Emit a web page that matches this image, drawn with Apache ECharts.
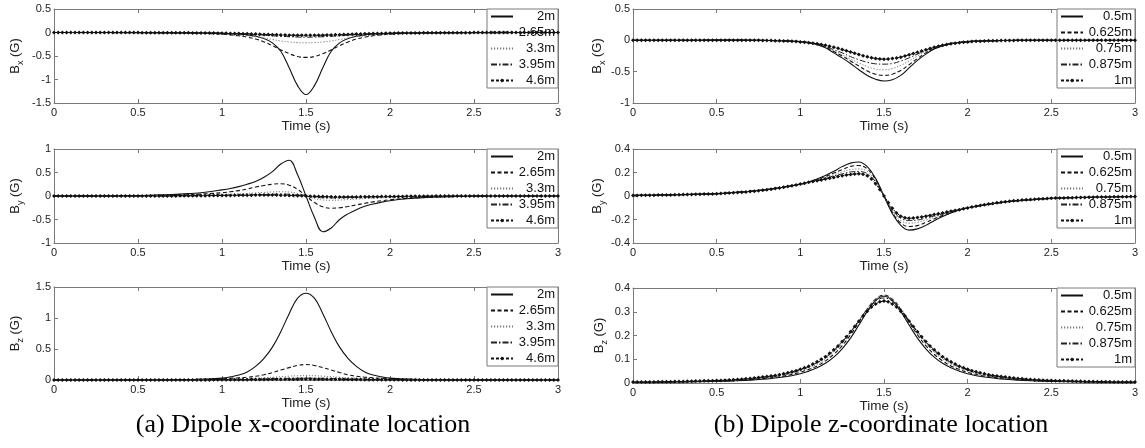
<!DOCTYPE html>
<html><head><meta charset="utf-8">
<script src="https://cdn.jsdelivr.net/npm/echarts/dist/echarts.min.js"></script>
<style>html,body{margin:0;padding:0;background:#fff}#c{width:1145px;height:448px}</style>
</head><body><div id="c"></div><script>
// ---------- DATA ----------
const T = [0,0.25,0.5,0.6,0.7,0.8,0.9,1.0,1.05,1.1,1.15,1.2,1.25,1.3,1.35,1.4,1.45,1.5,1.55,1.6,1.65,1.7,1.75,1.8,1.85,1.9,1.95,2.0,2.1,2.2,2.3,2.4,2.5,2.75,3.0];
const TM = [0,0.025,0.05,0.075,0.1,0.125,0.15,0.175,0.2,0.225,0.25,0.275,0.3,0.325,0.35,0.375,0.4,0.425,0.45,0.475,0.5,0.525,0.55,0.575,0.6,0.625,0.65,0.675,0.7,0.725,0.75,0.775,0.8,0.825,0.85,0.875,0.9,0.925,0.95,0.975,1,1.025,1.05,1.075,1.1,1.125,1.15,1.175,1.2,1.225,1.25,1.275,1.3,1.325,1.35,1.375,1.4,1.425,1.45,1.475,1.5,1.525,1.55,1.575,1.6,1.625,1.65,1.675,1.7,1.725,1.75,1.775,1.8,1.825,1.85,1.875,1.9,1.925,1.95,1.975,2,2.025,2.05,2.075,2.1,2.125,2.15,2.175,2.2,2.225,2.25,2.275,2.3,2.325,2.35,2.375,2.4,2.425,2.45,2.475,2.5,2.525,2.55,2.575,2.6,2.625,2.65,2.675,2.7,2.725,2.75,2.775,2.8,2.825,2.85,2.875,2.9,2.925,2.95,2.975,3];
const X_TICKS = [0, 3, 0.5];

const NAMES_A = ['2m','2.65m','3.3m','3.95m','4.6m'];
const NAMES_B = ['0.5m','0.625m','0.75m','0.875m','1m'];

// (a) Dipole x-coordinate location
const BX_A_2   = [0,0,-0.001,-0.002,-0.004,-0.006,-0.01,-0.018,-0.025,-0.035,-0.05,-0.08,-0.13,-0.22,-0.4,-0.75,-1.13,-1.32,-1.13,-0.75,-0.4,-0.22,-0.13,-0.08,-0.05,-0.035,-0.025,-0.018,-0.01,-0.006,-0.004,-0.002,-0.001,0,0];
const BX_A_265 = [0,-0.001,-0.003,-0.005,-0.008,-0.012,-0.02,-0.035,-0.05,-0.07,-0.1,-0.14,-0.2,-0.28,-0.37,-0.45,-0.51,-0.53,-0.51,-0.45,-0.37,-0.28,-0.2,-0.14,-0.1,-0.07,-0.05,-0.035,-0.02,-0.012,-0.008,-0.005,-0.003,-0.001,0];
const BX_A_33  = [0,-0.002,-0.004,-0.006,-0.009,-0.013,-0.02,-0.03,-0.04,-0.055,-0.07,-0.09,-0.12,-0.15,-0.18,-0.2,-0.215,-0.22,-0.215,-0.2,-0.18,-0.15,-0.12,-0.09,-0.07,-0.055,-0.04,-0.03,-0.02,-0.013,-0.009,-0.006,-0.004,-0.002,0];
const BX_A_395 = [0,-0.002,-0.004,-0.005,-0.007,-0.01,-0.014,-0.02,-0.025,-0.03,-0.038,-0.047,-0.057,-0.07,-0.08,-0.09,-0.097,-0.1,-0.097,-0.09,-0.08,-0.07,-0.057,-0.047,-0.038,-0.03,-0.025,-0.02,-0.014,-0.01,-0.007,-0.005,-0.004,-0.002,0];
const BX_A_46  = [0,0,0,0,0,0,0,0,0,0,0,0,0,0,0,0,0,0,0,0,0,
  -0.003,-0.003,-0.003,-0.004,-0.004,-0.004,-0.005,-0.005,-0.006,-0.006,
  -0.007,-0.007,-0.008,-0.009,-0.01,-0.011,-0.012,-0.013,-0.014,-0.015,
  -0.017,-0.019,-0.021,-0.023,-0.025,-0.028,-0.031,-0.034,-0.037,-0.04,
  -0.043,-0.046,-0.049,-0.052,-0.054,-0.056,-0.058,-0.059,-0.06,
  -0.06,
  -0.06,-0.059,-0.058,-0.056,-0.054,-0.052,-0.049,-0.046,-0.043,
  -0.04,-0.037,-0.034,-0.031,-0.028,-0.025,-0.023,-0.021,-0.019,-0.017,
  -0.015,-0.014,-0.013,-0.012,-0.011,-0.01,-0.009,-0.008,-0.007,-0.007,
  -0.006,-0.006,-0.005,-0.005,-0.004,-0.004,-0.004,-0.003,-0.003,-0.003,
  0,0,0,0,0,0,0,0,0,0,0,0,0,0,0,0,0,0,0,0,0];

const BY_A_2   = [0,0.003,0.01,0.02,0.03,0.05,0.08,0.13,0.16,0.2,0.25,0.31,0.4,0.52,0.68,0.76,0.45,0,-0.45,-0.76,-0.68,-0.5,-0.38,-0.29,-0.22,-0.17,-0.13,-0.1,-0.06,-0.035,-0.02,-0.01,-0.005,0,0];
const BY_A_265 = [0,0.001,0.005,0.008,0.015,0.025,0.045,0.07,0.09,0.115,0.15,0.19,0.225,0.25,0.26,0.23,0.14,0,-0.14,-0.23,-0.26,-0.25,-0.225,-0.19,-0.155,-0.125,-0.1,-0.08,-0.05,-0.03,-0.018,-0.011,-0.006,-0.002,0];
const BY_A_33  = [0,0,0.003,0.005,0.008,0.013,0.02,0.03,0.037,0.045,0.055,0.066,0.077,0.086,0.09,0.085,0.055,0,-0.055,-0.085,-0.09,-0.086,-0.077,-0.066,-0.055,-0.045,-0.037,-0.03,-0.02,-0.013,-0.008,-0.005,-0.003,0,0];
const BY_A_395 = [0,0,0.002,0.003,0.005,0.007,0.01,0.014,0.017,0.02,0.024,0.029,0.033,0.037,0.04,0.038,0.025,0,-0.025,-0.038,-0.04,-0.037,-0.033,-0.029,-0.024,-0.02,-0.017,-0.014,-0.01,-0.007,-0.005,-0.003,-0.002,0,0];
const BY_A_46  = [0,0,0,0,0,0,0,0,0,0,0,0,0,0,0,0,0,0,0,0,0,0,0,0,0,0,0,0,
  0.002,0.002,0.003,0.003,0.004,0.004,0.005,0.006,0.007,0.008,0.009,0.01,
  0.011,0.012,0.013,0.014,0.015,0.016,0.017,0.018,0.019,0.019,0.02,0.02,
  0.02,0.019,0.018,0.016,0.013,0.01,0.007,0.003,
  0,
  -0.003,-0.007,-0.01,-0.013,-0.016,-0.018,-0.019,-0.02,
  -0.02,-0.02,-0.019,-0.019,-0.018,-0.017,-0.016,-0.015,-0.014,-0.013,-0.012,-0.011,
  -0.01,-0.009,-0.008,-0.007,-0.006,-0.005,-0.004,-0.004,-0.003,-0.003,-0.002,-0.002,
  0,0,0,0,0,0,0,0,0,0,0,0,0,0,0,0,0,0,0,0,0,0,0,0,0,0,0,0];

const BZ_A_2   = [0,0.001,0.002,0.003,0.004,0.008,0.015,0.03,0.05,0.08,0.13,0.22,0.35,0.53,0.78,1.07,1.32,1.4,1.32,1.07,0.78,0.53,0.35,0.22,0.13,0.08,0.05,0.03,0.015,0.008,0.004,0.003,0.002,0.001,0];
const BZ_A_265 = [0,0.001,0.002,0.003,0.005,0.008,0.012,0.02,0.027,0.035,0.045,0.06,0.085,0.12,0.16,0.2,0.235,0.25,0.235,0.2,0.16,0.12,0.085,0.06,0.045,0.035,0.027,0.02,0.012,0.008,0.005,0.003,0.002,0.001,0];
const BZ_A_33  = [0,0,0.001,0.002,0.003,0.004,0.006,0.01,0.013,0.016,0.021,0.027,0.035,0.044,0.053,0.062,0.068,0.07,0.068,0.062,0.053,0.044,0.035,0.027,0.021,0.016,0.013,0.01,0.006,0.004,0.003,0.002,0.001,0,0];
const BZ_A_395 = [0,0,0.001,0.001,0.002,0.003,0.004,0.006,0.007,0.009,0.011,0.014,0.017,0.021,0.024,0.027,0.029,0.03,0.029,0.027,0.024,0.021,0.017,0.014,0.011,0.009,0.007,0.006,0.004,0.003,0.002,0.001,0.001,0,0];
const BZ_A_46  = [0,0,0,0,0,0,0,0,0,0,0,0,0,0,0,0,0,0,0,0,0,0,0,0,0,0,0,0,0,0,0,0,
  0.001,0.001,0.001,0.002,0.002,0.002,0.003,0.003,0.003,0.004,0.004,0.005,
  0.005,0.006,0.006,0.007,0.008,0.008,0.009,0.01,0.011,0.011,0.012,0.013,0.013,0.014,0.014,0.015,
  0.015,
  0.015,0.014,0.014,0.013,0.013,0.012,0.011,0.011,0.01,0.009,0.008,0.008,0.007,0.006,0.006,0.005,
  0.005,0.004,0.004,0.003,0.003,0.003,0.002,0.002,0.002,0.001,0.001,0.001,
  0,0,0,0,0,0,0,0,0,0,0,0,0,0,0,0,0,0,0,0,0,0,0,0,0,0,0,0,0,0,0,0];

// (b) Dipole z-coordinate location
const BX_B_05   = [0,0,0.003,0.003,0.002,-0.002,-0.008,-0.02,-0.04,-0.07,-0.12,-0.2,-0.28,-0.37,-0.47,-0.56,-0.62,-0.65,-0.63,-0.56,-0.44,-0.32,-0.22,-0.14,-0.09,-0.055,-0.035,-0.02,-0.008,-0.003,0,0,0,0,0];
const BX_B_0625 = [0,0,0.003,0.003,0.002,-0.002,-0.008,-0.02,-0.04,-0.065,-0.11,-0.18,-0.25,-0.33,-0.41,-0.49,-0.54,-0.56,-0.54,-0.48,-0.39,-0.29,-0.2,-0.13,-0.085,-0.053,-0.033,-0.02,-0.008,-0.003,0,0,0,0,0];
const BX_B_075  = [0,0,0.003,0.003,0.002,-0.002,-0.008,-0.02,-0.035,-0.06,-0.1,-0.165,-0.23,-0.3,-0.36,-0.42,-0.46,-0.47,-0.45,-0.4,-0.33,-0.25,-0.18,-0.12,-0.08,-0.05,-0.032,-0.02,-0.008,-0.003,0,0,0,0,0];
const BX_B_0875 = [0,0,0.003,0.003,0.002,-0.002,-0.008,-0.02,-0.033,-0.055,-0.095,-0.15,-0.2,-0.26,-0.31,-0.35,-0.375,-0.38,-0.37,-0.33,-0.28,-0.22,-0.16,-0.11,-0.075,-0.048,-0.03,-0.018,-0.007,-0.003,0,0,0,0,0];
const BX_B_1    = [0,0,0,0,0,0,0,0,0,0,0,0,0,0,0,0,
  0.002,0.003,0.003,0.003,0.003,0.003,0.003,0.003,0.003,0.003,0.002,0.002,
  0.002,0.001,0,-0.001,-0.002,-0.003,
  -0.005,-0.007,-0.009,-0.012,-0.016,-0.02,-0.025,-0.03,-0.037,-0.045,-0.055,-0.067,-0.08,-0.095,-0.11,-0.128,-0.147,-0.167,-0.187,-0.207,-0.227,-0.246,-0.263,-0.278,-0.29,-0.298,
  -0.3,
  -0.298,-0.29,-0.282,-0.27,-0.25,-0.23,-0.21,-0.19,-0.17,-0.15,-0.13,-0.11,-0.095,-0.08,-0.067,-0.055,-0.046,-0.038,-0.031,-0.025,-0.02,-0.016,-0.013,-0.01,-0.008,-0.006,-0.005,-0.004,-0.003,-0.002,-0.001,0,
  0,0,0,0,0,0,0,0,0,0,0,0,0,0,0,0,0,0,0,0,0,0,0,0,0,0,0,0];

const BY_B_05   = [0.005,0.01,0.02,0.03,0.04,0.055,0.075,0.1,0.12,0.145,0.175,0.21,0.25,0.28,0.29,0.25,0.15,0,-0.15,-0.25,-0.29,-0.28,-0.25,-0.21,-0.175,-0.145,-0.12,-0.1,-0.075,-0.055,-0.04,-0.03,-0.02,-0.01,-0.005];
const BY_B_0625 = [0.005,0.01,0.02,0.03,0.04,0.055,0.076,0.1,0.118,0.14,0.165,0.195,0.225,0.252,0.26,0.23,0.14,0,-0.14,-0.23,-0.26,-0.252,-0.225,-0.195,-0.165,-0.14,-0.118,-0.1,-0.076,-0.055,-0.04,-0.03,-0.02,-0.01,-0.005];
const BY_B_075  = [0.005,0.01,0.02,0.03,0.04,0.056,0.077,0.1,0.117,0.136,0.158,0.182,0.205,0.225,0.23,0.21,0.13,0,-0.13,-0.21,-0.23,-0.225,-0.205,-0.182,-0.158,-0.136,-0.117,-0.1,-0.077,-0.056,-0.04,-0.03,-0.02,-0.01,-0.005];
const BY_B_0875 = [0.005,0.01,0.02,0.03,0.041,0.057,0.078,0.102,0.117,0.133,0.152,0.17,0.188,0.205,0.208,0.19,0.12,0,-0.12,-0.19,-0.208,-0.205,-0.188,-0.17,-0.152,-0.133,-0.117,-0.102,-0.078,-0.057,-0.041,-0.03,-0.02,-0.01,-0.005];
const BY_B_1    = [0.005,0.005,0.006,0.006,0.007,0.007,0.008,0.008,0.009,0.009,0.01,
  0.011,0.012,0.012,0.013,0.014,0.015,0.016,0.017,0.018,0.02,
  0.021,0.023,0.025,0.027,0.03,0.032,0.035,0.038,0.041,0.045,
  0.049,0.053,0.058,0.063,0.068,0.074,0.08,0.087,0.094,0.102,
  0.109,0.116,0.123,0.13,0.137,0.144,0.151,0.158,0.165,0.172,
  0.178,0.184,0.188,0.19,0.186,0.172,0.145,0.105,0.055,
  0,
  -0.055,-0.105,-0.145,-0.172,-0.186,-0.19,-0.188,-0.184,-0.178,
  -0.172,-0.165,-0.158,-0.151,-0.144,-0.137,-0.13,-0.123,-0.116,-0.109,
  -0.102,-0.094,-0.087,-0.08,-0.074,-0.068,-0.063,-0.058,-0.053,-0.049,
  -0.045,-0.041,-0.038,-0.035,-0.032,-0.03,-0.027,-0.025,-0.023,-0.021,
  -0.02,-0.018,-0.017,-0.016,-0.015,-0.014,-0.013,-0.012,-0.012,-0.011,
  -0.01,-0.009,-0.009,-0.008,-0.008,-0.007,-0.007,-0.006,-0.006,-0.005,-0.005];

const BZ_B_05   = [0.002,0.004,0.007,0.009,0.012,0.017,0.025,0.039,0.05,0.064,0.083,0.109,0.144,0.189,0.244,0.301,0.347,0.365,0.347,0.301,0.244,0.189,0.144,0.109,0.083,0.064,0.05,0.039,0.025,0.017,0.012,0.009,0.007,0.004,0.002];
const BZ_B_0625 = [0.002,0.004,0.008,0.01,0.014,0.02,0.029,0.045,0.057,0.072,0.093,0.121,0.157,0.203,0.256,0.311,0.353,0.37,0.353,0.311,0.256,0.203,0.157,0.121,0.093,0.072,0.057,0.045,0.029,0.02,0.014,0.01,0.008,0.004,0.002];
const BZ_B_075  = [0.003,0.005,0.009,0.012,0.016,0.023,0.033,0.05,0.063,0.079,0.101,0.13,0.167,0.212,0.263,0.314,0.353,0.368,0.353,0.314,0.263,0.212,0.167,0.13,0.101,0.079,0.063,0.05,0.033,0.023,0.016,0.012,0.009,0.005,0.003];
const BZ_B_0875 = [0.003,0.005,0.01,0.013,0.018,0.025,0.036,0.054,0.068,0.085,0.107,0.136,0.172,0.215,0.263,0.31,0.345,0.358,0.345,0.31,0.263,0.215,0.172,0.136,0.107,0.085,0.068,0.054,0.036,0.025,0.018,0.013,0.01,0.005,0.003];
const BZ_B_1    = [0.004,0.004,0.004,0.004,0.004,0.004,0.005,0.005,0.005,0.005,
  0.006,0.006,0.006,0.007,0.007,0.008,0.008,0.009,0.009,0.01,
  0.011,0.011,0.012,0.013,0.014,0.015,0.016,0.018,0.019,0.021,
  0.023,0.025,0.027,0.029,0.032,0.035,0.039,0.043,0.047,0.052,
  0.058,0.064,0.071,0.08,0.089,0.1,0.111,0.125,0.14,0.156,
  0.175,0.195,0.216,0.238,0.26,0.282,0.302,0.32,0.333,0.342,
  0.345,
  0.342,0.333,0.32,0.302,0.282,0.26,0.238,0.216,0.195,0.175,
  0.156,0.14,0.125,0.111,0.1,0.089,0.08,0.071,0.064,0.058,
  0.052,0.047,0.043,0.039,0.035,0.032,0.029,0.027,0.025,0.023,
  0.021,0.019,0.018,0.016,0.015,0.014,0.013,0.012,0.011,0.011,
  0.01,0.009,0.009,0.008,0.008,0.007,0.007,0.006,0.006,0.006,
  0.005,0.005,0.005,0.005,0.004,0.004,0.004,0.004,0.004,0.004];

const CAPTION_A = '(a) Dipole x-coordinate location';
const CAPTION_B = '(b) Dipole z-coordinate location';

// ---------- LAYOUT / STYLE ----------
const SANS = 'Liberation Sans, Arial, sans-serif';
const panels = [
  {grid:{left:54, top:9,   width:504, height:94}, y:[-1.5,0.5,0.5], sub:'x', names:NAMES_A, lines:[BX_A_2,BX_A_265,BX_A_33,BX_A_395], mk:BX_A_46, leg:{left:487, top:9}, nameGap:29},
  {grid:{left:54, top:149, width:504, height:94}, y:[-1,1,0.5],     sub:'y', names:NAMES_A, lines:[BY_A_2,BY_A_265,BY_A_33,BY_A_395], mk:BY_A_46, leg:{left:487, top:149}, nameGap:29},
  {grid:{left:54, top:287, width:504, height:93}, y:[0,1.5,0.5],     sub:'z', names:NAMES_A, lines:[BZ_A_2,BZ_A_265,BZ_A_33,BZ_A_395], mk:BZ_A_46, leg:{left:487, top:287}, nameGap:29},
  {grid:{left:633, top:9,   width:502, height:94}, y:[-1,0.5,0.5],   sub:'x', names:NAMES_B, lines:[BX_B_05,BX_B_0625,BX_B_075,BX_B_0875], mk:BX_B_1, leg:{left:1057, top:9}, nameGap:24},
  {grid:{left:633, top:149, width:502, height:94}, y:[-0.4,0.4,0.2], sub:'y', names:NAMES_B, lines:[BY_B_05,BY_B_0625,BY_B_075,BY_B_0875], mk:BY_B_1, leg:{left:1057, top:149}, nameGap:24},
  {grid:{left:633, top:288, width:502, height:95}, y:[0,0.4,0.1],    sub:'z', names:NAMES_B, lines:[BZ_B_05,BZ_B_0625,BZ_B_075,BZ_B_0875], mk:BZ_B_1, leg:{left:1057, top:288}, nameGap:24}
];
const lineStyles = [
  {type:'solid', color:'#111', width:1.1},
  {type:[4,2.5], color:'#111', width:1.1},
  {type:[1.2,1.8], color:'#777', width:1},
  {type:[6,2,1.5,2], color:'#222', width:1}
];
const AX = '#7a7a7a';

function pts(xs, ys){ const n = Math.min(xs.length, ys.length); const o=[]; for(let i=0;i<n;i++) o.push([xs[i], ys[i]]); return o; }

const option = {animation:false, backgroundColor:'#fff', grid:[], xAxis:[], yAxis:[], series:[], legend:[],
  graphic:[
    {type:'text', x:303, y:425, style:{text:CAPTION_A, fontSize:26, fontFamily:'Liberation Serif, Times New Roman, serif', fill:'#000', align:'center', verticalAlign:'middle'}},
    {type:'text', x:881, y:425, style:{text:CAPTION_B, fontSize:26, fontFamily:'Liberation Serif, Times New Roman, serif', fill:'#000', align:'center', verticalAlign:'middle'}}
  ]};

panels.forEach((p, gi) => {
  option.grid.push(Object.assign({show:false, containLabel:false}, p.grid));
  const xi = option.xAxis.length, yi = option.yAxis.length;
  option.xAxis.push({type:'value', gridIndex:gi, min:X_TICKS[0], max:X_TICKS[1], interval:X_TICKS[2], position:'bottom',
    name:'Time (s)', nameLocation:'middle', nameGap:15, nameTextStyle:{fontSize:13.5, fontFamily:SANS, color:'#222'},
    axisLine:{onZero:false, lineStyle:{color:AX, width:1}}, axisTick:{inside:true, length:4, lineStyle:{color:AX}},
    axisLabel:{fontSize:11, fontFamily:SANS, color:'#222', margin:4}, splitLine:{show:false}});
  option.xAxis.push({type:'value', gridIndex:gi, min:X_TICKS[0], max:X_TICKS[1], interval:X_TICKS[2], position:'top',
    axisLine:{onZero:false, lineStyle:{color:AX, width:1}}, axisTick:{inside:true, length:4, lineStyle:{color:AX}},
    axisLabel:{show:false}, splitLine:{show:false}});
  option.yAxis.push({type:'value', gridIndex:gi, min:p.y[0], max:p.y[1], interval:p.y[2], position:'left',
    name:'{b|B}{s|' + p.sub + '}{b| (G)}', nameLocation:'middle', nameGap:p.nameGap,
    nameTextStyle:{color:'#222', rich:{b:{fontSize:13, fontFamily:SANS, color:'#222', lineHeight:20}, s:{fontSize:9, fontFamily:SANS, color:'#222', lineHeight:10, verticalAlign:'bottom'}}},
    axisLine:{onZero:false, lineStyle:{color:AX, width:1}}, axisTick:{inside:true, length:4, lineStyle:{color:AX}},
    axisLabel:{fontSize:11, fontFamily:SANS, color:'#222', margin:3}, splitLine:{show:false}});
  option.yAxis.push({type:'value', gridIndex:gi, min:p.y[0], max:p.y[1], interval:p.y[2], position:'right',
    axisLine:{onZero:false, lineStyle:{color:AX, width:1}}, axisTick:{inside:true, length:4, lineStyle:{color:AX}},
    axisLabel:{show:false}, splitLine:{show:false}});
  p.lines.forEach((arr, k) => {
    option.series.push({type:'line', name:p.names[k], xAxisIndex:xi, yAxisIndex:yi, data:pts(T, arr),
      symbol:'none', smooth:0.4, lineStyle:lineStyles[k], itemStyle:{color:lineStyles[k].color}, z:3+k});
  });
  option.series.push({type:'line', name:p.names[4], xAxisIndex:xi, yAxisIndex:yi, data:pts(TM, p.mk),
    symbol:'diamond', symbolSize:4, showAllSymbol:true, lineStyle:{type:[3,2], color:'#111', width:1}, itemStyle:{color:'#111'}, z:8});
  const w = p.names === NAMES_A ? 37 : 44;
  const hidden = {color:'rgba(0,0,0,0)', borderColor:'rgba(0,0,0,0)', borderWidth:0, opacity:0};
  option.legend.push({left:p.leg.left, top:p.leg.top, orient:'vertical',
    data:p.names.map((n, k) => k < 4 ? {name:n, itemStyle:hidden} : {name:n}), selectedMode:false,
    backgroundColor:'#fff', borderColor:AX, borderWidth:1, padding:[1,3,1,3], itemWidth:22, itemHeight:5, itemGap:3,
    formatter: n => '{a|' + n + '}',
    textStyle:{rich:{a:{width:w, align:'right', fontSize:13, fontFamily:SANS, color:'#111', lineHeight:16}}}});
});

const chart = echarts.init(document.getElementById('c'), null, {renderer:'canvas'});
chart.setOption(option);
</script></body></html>
